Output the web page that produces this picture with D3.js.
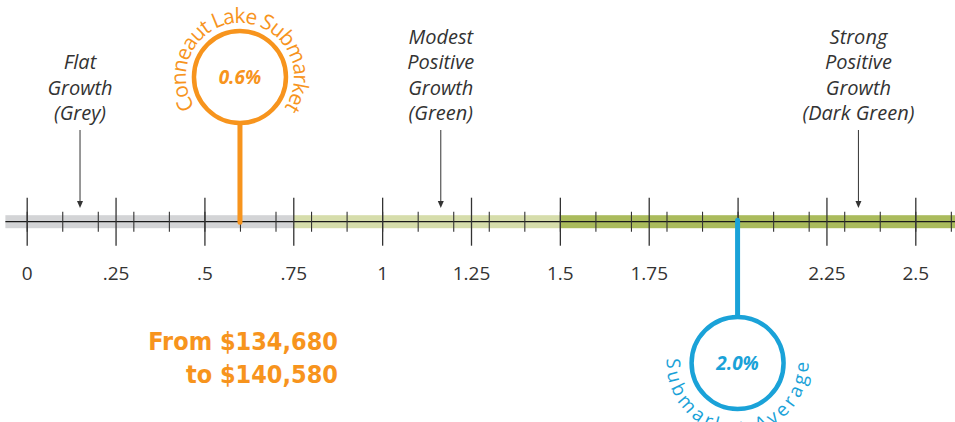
<!DOCTYPE html>
<html>
<head>
<meta charset="utf-8">
<script src="https://cdn.jsdelivr.net/npm/d3@7/dist/d3.min.js"></script>
<style>
  html, body { margin: 0; padding: 0; background: #ffffff; }
  svg { display: block; }
</style>
</head>
<body>
<svg id="chart" width="955" height="422"></svg>
<script>
// Growth-rate scale (annual %), shaded by growth category
const minorTicks = [0, 0.1, 0.2, 0.3, 0.4, 0.5, 0.6, 0.7, 0.8, 0.9, 1.0, 1.1, 1.2, 1.3,
                    1.4, 1.5, 1.6, 1.7, 1.8, 1.9, 2.0, 2.1, 2.2, 2.3, 2.4, 2.5, 2.6];
const majorTicks = [0, 0.25, 0.5, 0.75, 1, 1.25, 1.5, 1.75, 2, 2.25, 2.5];
const tickLabels = ["0", ".25", ".5", ".75", "1", "1.25", "1.5", "1.75", "", "2.25", "2.5"];

// Category bands along the scale
const bandNames  = ["Flat", "Modest", "Strong"];
const bandStarts = [-0.06, 0.75, 1.5];
const bandEnds   = [0.75, 1.5, 2.62];
const bandColors = ["#d3d4d6", "#d6ddab", "#aabb5c"];

// Category call-outs: text lines and the point on the scale each one marks
const calloutLines = [
  ["Flat", "Growth", "(Grey)"],
  ["Modest", "Positive", "Growth", "(Green)"],
  ["Strong", "Positive", "Growth", "(Dark Green)"]
];
const calloutValues = [0.15, 1.165, 2.34];

// Markers: submarket vs. average growth
const markerNames  = ["Conneaut Lake Submarket", "Submarket Average"];
const markerValues = [0.6, 2.0];
const markerLabels = ["0.6%", "2.0%"];
const markerColors = ["#f7941d", "#1aa2d8"];

// Value change note
const valueNote = ["From $134,680", "to $140,580"];

const svg = d3.select("#chart");
const x = d3.scaleLinear().domain([0, 2.5]).range([26.7, 915.3]);
const axisY = 221.7;
const ink = "#333333";
const labelFont = "'Open Sans', 'DejaVu Sans', sans-serif";

// Bands
svg.append("g").selectAll("rect")
  .data(bandNames)
  .join("rect")
  .attr("x", (d, i) => x(bandStarts[i]))
  .attr("width", (d, i) => x(bandEnds[i]) - x(bandStarts[i]))
  .attr("y", axisY - 6.5)
  .attr("height", 13)
  .attr("fill", (d, i) => bandColors[i]);

// Axis baseline
svg.append("line")
  .attr("x1", x(bandStarts[0])).attr("x2", x(bandEnds[2]))
  .attr("y1", axisY).attr("y2", axisY)
  .attr("stroke", "#1a1a1a").attr("stroke-width", 1.2);

// Minor ticks (every 0.1)
const minorAxis = svg.append("g")
  .attr("transform", `translate(0,${axisY})`)
  .call(d3.axisBottom(x).tickValues(minorTicks).tickSize(10).tickFormat(""));
minorAxis.select(".domain").remove();
minorAxis.selectAll(".tick line")
  .attr("y1", -10).attr("y2", 10)
  .attr("stroke", ink).attr("stroke-width", 1.1);

// Major ticks (every 0.25) with labels
const majorAxis = svg.append("g")
  .attr("transform", `translate(0,${axisY})`)
  .call(d3.axisBottom(x).tickValues(majorTicks).tickSize(24).tickPadding(0)
    .tickFormat((d, i) => tickLabels[i]));
majorAxis.select(".domain").remove();
majorAxis.selectAll(".tick line")
  .attr("y1", -24).attr("y2", 24)
  .attr("stroke", ink).attr("stroke-width", 1.3);
majorAxis.selectAll(".tick text")
  .attr("y", 58).attr("dy", 0)
  .attr("fill", ink)
  .style("font-family", labelFont)
  .style("font-size", "19px");

// Category call-outs with arrows
const callouts = svg.append("g").selectAll("g")
  .data(calloutLines)
  .join("g");
callouts.append("text")
  .attr("x", (d, i) => x(calloutValues[i]))
  .attr("text-anchor", "middle")
  .attr("fill", ink)
  .style("font-family", labelFont)
  .style("font-style", "italic")
  .style("font-size", "20px")
  .selectAll("tspan")
  .data(d => d.map((t, j) => ({ t, j, n: d.length })))
  .join("tspan")
  .attr("x", function () { return this.parentNode.getAttribute("x"); })
  .attr("y", d => 120 - (d.n - 1 - d.j) * 25.5)
  .text(d => d.t);
callouts.append("line")
  .attr("x1", (d, i) => x(calloutValues[i])).attr("x2", (d, i) => x(calloutValues[i]))
  .attr("y1", 130).attr("y2", 203)
  .attr("stroke", ink).attr("stroke-width", 1);
callouts.append("path")
  .attr("d", (d, i) => {
    const cx = x(calloutValues[i]);
    return `M${cx - 3},201 L${cx + 3},201 L${cx},208 Z`;
  })
  .attr("fill", ink);

// Markers: stem, ring, value and curved name
const ringR = 46;
const markers = svg.append("g").selectAll("g")
  .data(markerNames)
  .join("g");

markers.each(function (name, i) {
  const g = d3.select(this);
  const cx = x(markerValues[i]);
  const up = i === 0;
  const cy = up ? axisY - 144.7 : axisY + 141.3;
  const color = markerColors[i];

  g.append("line")
    .attr("x1", cx).attr("x2", cx)
    .attr("y1", up ? axisY + 0.5 : axisY - 1.5)
    .attr("y2", up ? cy + ringR : cy - ringR)
    .attr("stroke", color).attr("stroke-width", 5)
    .attr("stroke-linecap", "round");

  g.append("circle")
    .attr("cx", cx).attr("cy", cy).attr("r", ringR)
    .attr("fill", "#ffffff")
    .attr("stroke", color).attr("stroke-width", 4.5);

  g.append("text")
    .attr("x", cx).attr("y", cy + 6.5)
    .attr("text-anchor", "middle")
    .attr("fill", color)
    .style("font-family", labelFont)
    .style("font-weight", "bold")
    .style("font-style", "italic")
    .style("font-size", "19px")
    .text(markerLabels[i]);

  // name set on an arc around the ring: over the top for the upper marker,
  // under the bottom for the lower one
  const r = up ? 54 : 71;
  const pathId = "arc" + i;
  const d = up
    ? `M${cx},${cy + r} A${r},${r} 0 1 1 ${cx},${cy - r} A${r},${r} 0 1 1 ${cx},${cy + r}`
    : `M${cx},${cy - r} A${r},${r} 0 1 0 ${cx},${cy + r} A${r},${r} 0 1 0 ${cx},${cy - r}`;
  g.append("path").attr("id", pathId).attr("d", d).attr("fill", "none");

  const target = up ? 234 : 228;
  const label = g.append("text")
    .attr("fill", color)
    .style("font-family", labelFont)
    .style("font-weight", "400")
    .style("font-size", up ? "21px" : "19px");
  label.append("textPath")
    .attr("href", "#" + pathId)
    .attr("startOffset", "50%")
    .attr("text-anchor", "middle")
    .text(name);
  const natural = label.node().getComputedTextLength();
  const spacing = (target - natural) / (name.length - 1);
  label.style("letter-spacing", spacing + "px");
});

// Value note
svg.append("text")
  .attr("x", 338)
  .attr("text-anchor", "end")
  .attr("fill", markerColors[0])
  .style("font-family", "'DejaVu Sans Condensed', 'DejaVu Sans', sans-serif")
  .style("font-weight", "bold")
  .style("font-stretch", "condensed")
  .style("font-size", "25px")
  .selectAll("tspan")
  .data(valueNote)
  .join("tspan")
  .attr("x", 338)
  .attr("y", (d, i) => 350 + i * 33)
  .text(d => d);
</script>
</body>
</html>
